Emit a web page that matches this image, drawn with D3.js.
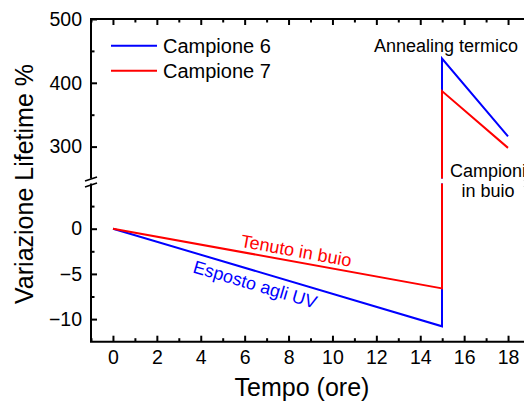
<!DOCTYPE html>
<html>
<head>
<meta charset="utf-8">
<script src="https://cdn.jsdelivr.net/npm/d3@7"></script>
<style>
	body { margin: 0; background: #fff; }
	text { font-family: "Liberation Sans", Arial, sans-serif; }
</style>
</head>
<body>
<svg id="chart" width="524" height="405"></svg>
<script>

//############
//### data ###
//############
var hours = [0, 15, 15, 18];
var campione6 = [0, -10.8, 438, 316];
var campione7 = [0, -6.6, 387, 298];
var seriesNames = ["Campione 6", "Campione 7"];
var seriesColors = ["#0000ff", "#ff0000"];

var xTicks = [0, 2, 4, 6, 8, 10, 12, 14, 16, 18];
var yTicksLow = [-10, -5, 0];
var yTicksHigh = [300, 400, 500];

//#################
//### constants ###
//#################
// note: "top" is taken by window.top, so the edges get a plot prefix
var plotLeft = 91, plotRight = 530, plotTop = 19, plotBottom = 341.7;
var upperBottom = 178.5, lowerTop = 183.5;
var majorTick = 6, minorTick = 3.5;
var tickFont = 19.5;

var svg = d3.select("#chart");

var x = d3.scaleLinear().domain([-1, 19]).range([plotLeft, plotRight]);
var yHigh = d3.scaleLinear().domain([250, 500]).range([upperBottom, plotTop]);
var yLow = d3.scaleLinear().domain([-12.5, 5]).range([plotBottom, lowerTop]);

// clip regions, one for each panel of the broken axis
var defs = svg.append("defs");
defs.append("clipPath").attr("id", "clipHigh")
	.append("rect")
		.attr("x", plotLeft).attr("y", plotTop)
		.attr("width", plotRight - plotLeft).attr("height", upperBottom - plotTop);
defs.append("clipPath").attr("id", "clipLow")
	.append("rect")
		.attr("x", plotLeft).attr("y", lowerTop)
		.attr("width", plotRight - plotLeft).attr("height", plotBottom - lowerTop);

//#############
//### lines ###
//#############
var seriesData = [campione6, campione7];

[["clipLow", yLow], ["clipHigh", yHigh]].forEach(function(panel){
	var line = d3.line()
		// snap to whole pixels so the shared vertical jump stays a clean red
		.x(function(d){ return Math.round(x(d[0])); })
		.y(function(d){ return panel[1](d[1]); });

	var g = svg.append("g").attr("clip-path", "url(#" + panel[0] + ")");

	seriesData.forEach(function(values, i){
		g.append("path")
			.datum(hours.map(function(h, j){ return [h, values[j]]; }))
			.attr("d", line)
			.attr("fill", "none")
			.attr("stroke", seriesColors[i])
			.attr("stroke-width", 2);
	});
});

//############
//### axes ###
//############
function styleAxis(g){
	g.attr("font-family", null).attr("font-size", null);
	g.select(".domain").remove();
	g.selectAll(".tick line").attr("stroke", "#000").attr("stroke-width", 2);
	g.selectAll(".tick text")
		.attr("fill", "#000")
		.style("font-size", tickFont + "px");
}

var minorX = d3.range(-1, 19.01, 1).filter(function(v){ return v % 2 != 0; });

// bottom
svg.append("g")
	.attr("transform", "translate(0," + plotBottom + ")")
	.call(d3.axisBottom(x).tickValues(xTicks).tickSize(-majorTick).tickPadding(8).tickFormat(d3.format("d")))
	.call(styleAxis);
svg.append("g")
	.attr("transform", "translate(0," + plotBottom + ")")
	.call(d3.axisBottom(x).tickValues(minorX).tickSize(-minorTick).tickFormat(""))
	.call(styleAxis);

// top
svg.append("g")
	.attr("transform", "translate(0," + plotTop + ")")
	.call(d3.axisTop(x).tickValues(xTicks).tickSize(-majorTick).tickFormat(""))
	.call(styleAxis);
svg.append("g")
	.attr("transform", "translate(0," + plotTop + ")")
	.call(d3.axisTop(x).tickValues(minorX).tickSize(-minorTick).tickFormat(""))
	.call(styleAxis);

// left + right, both panels
[[yLow, yTicksLow, [-7.5, -2.5, 2.5]], [yHigh, yTicksHigh, [350, 450]]].forEach(function(p){
	svg.append("g")
		.attr("transform", "translate(" + plotLeft + ",0)")
		.call(d3.axisLeft(p[0]).tickValues(p[1]).tickSize(-majorTick).tickPadding(9))
		.call(styleAxis);
	svg.append("g")
		.attr("transform", "translate(" + plotLeft + ",0)")
		.call(d3.axisLeft(p[0]).tickValues(p[2]).tickSize(-minorTick).tickFormat(""))
		.call(styleAxis);
	svg.append("g")
		.attr("transform", "translate(" + plotRight + ",0)")
		.call(d3.axisRight(p[0]).tickValues(p[1]).tickSize(-majorTick).tickFormat(""))
		.call(styleAxis);
	svg.append("g")
		.attr("transform", "translate(" + plotRight + ",0)")
		.call(d3.axisRight(p[0]).tickValues(p[2]).tickSize(-minorTick).tickFormat(""))
		.call(styleAxis);
});

// frame lines (broken at the axis break)
var frame = svg.append("g")
	.attr("stroke", "#000")
	.attr("stroke-width", 2)
	.attr("fill", "none");

frame.append("path")
	.attr("d", "M" + plotLeft + "," + upperBottom + "V" + plotTop + "H" + plotRight + "V" + upperBottom);
frame.append("path")
	.attr("d", "M" + plotLeft + "," + lowerTop + "V" + plotBottom + "H" + plotRight + "V" + lowerTop);

// break marks
[plotLeft, plotRight].forEach(function(ax){
	[upperBottom + 0.5, lowerTop + 1.5].forEach(function(cy){
		frame.append("line")
			.attr("x1", ax - 6).attr("y1", cy + 2)
			.attr("x2", ax + 6).attr("y2", cy - 2)
			.attr("stroke-width", 1.5);
	});
});

//##############
//### titles ###
//##############
svg.append("text")
	.attr("x", 302)
	.attr("y", 396)
	.attr("text-anchor", "middle")
	.style("font-size", "25px")
	.text("Tempo (ore)");

svg.append("text")
	.attr("transform", "translate(33,184) rotate(-90)")
	.attr("text-anchor", "middle")
	.style("font-size", "25px")
	.text("Variazione Lifetime %");

//##############
//### legend ###
//##############
var legend = svg.append("g");
seriesNames.forEach(function(name, i){
	var ly = 45.7 + i * 25;
	legend.append("line")
		.attr("x1", 111).attr("x2", 157)
		.attr("y1", ly).attr("y2", ly)
		.attr("stroke", seriesColors[i])
		.attr("stroke-width", 2);
	legend.append("text")
		.attr("x", 163)
		.attr("y", ly + 7)
		.style("font-size", "20px")
		.text(name);
});

//###################
//### annotations ###
//###################
svg.append("text")
	.attr("x", 446)
	.attr("y", 52)
	.attr("text-anchor", "middle")
	.style("font-size", "18px")
	.text("Annealing termico");

var campioniText = svg.append("text")
	.attr("text-anchor", "middle")
	.style("font-size", "18px");
campioniText.append("tspan").attr("x", 488).attr("y", 177).text("Campioni");
campioniText.append("tspan").attr("x", 488).attr("y", 197).text("in buio");

// labels running along the sloped lines
function slopeLabel(values, atHour, dy, color, label){
	var x0 = x(hours[0]), y0 = yLow(values[0]);
	var x1 = x(hours[1]), y1 = yLow(values[1]);
	var angle = Math.atan2(y1 - y0, x1 - x0) * 180 / Math.PI;
	var px = x(atHour);
	var py = y0 + (y1 - y0) * (px - x0) / (x1 - x0) + dy;
	svg.append("text")
		.attr("transform", "translate(" + px + "," + py + ") rotate(" + angle + ")")
		.attr("text-anchor", "middle")
		.attr("fill", color)
		.style("font-size", "18px")
		.text(label);
}

slopeLabel(campione7, 8.3, -5, seriesColors[1], "Tenuto in buio");
slopeLabel(campione6, 6.4, 20, seriesColors[0], "Esposto agli UV");

</script>
</body>
</html>
